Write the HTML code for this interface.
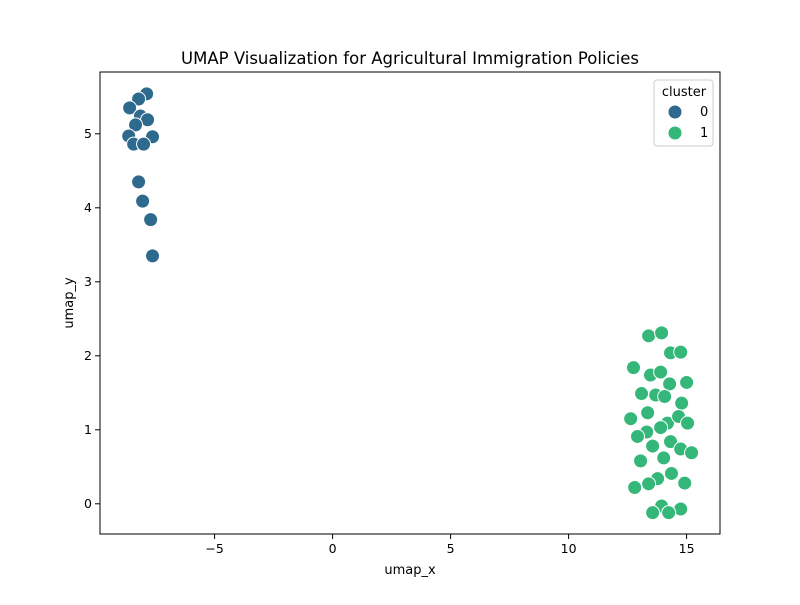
<!DOCTYPE html>
<html><head><meta charset="utf-8"><style>
body{margin:0;background:#fff;font-family:"Liberation Sans","DejaVu Sans",sans-serif}
svg text{font-family:"DejaVu Sans","Liberation Sans",sans-serif}
</style></head><body>
<svg id="chart" width="800" height="600" xmlns="http://www.w3.org/2000/svg"></svg>
<script>
const x0 = [-7.88,-8.22,-8.60,-8.14,-7.84,-8.35,-8.64,-7.63,-8.43,-8.01,-8.22,-8.05,-7.71,-7.63];
const y0 = [5.54,5.47,5.35,5.24,5.19,5.12,4.97,4.96,4.86,4.86,4.35,4.09,3.84,3.35];
const x1 = [13.39,13.94,14.32,14.75,12.75,13.47,13.90,14.28,15.0,13.09,13.69,14.07,14.79,12.63,13.35,14.19,14.66,13.90,15.04,13.31,12.92,13.56,14.32,14.75,15.21,13.05,14.03,14.36,13.77,13.39,12.80,14.92,13.94,14.75,14.24,13.56];
const y1 = [2.27,2.31,2.04,2.05,1.84,1.74,1.78,1.62,1.64,1.49,1.47,1.45,1.36,1.15,1.23,1.09,1.18,1.03,1.09,0.97,0.91,0.78,0.84,0.74,0.69,0.58,0.62,0.41,0.34,0.27,0.22,0.28,-0.03,-0.07,-0.12,-0.12];
const xTicks = [-5,0,5,10,15];
const yTicks = [0,1,2,3,4,5];
const colors = ["#2e6a8e","#35b779"];

const NS="http://www.w3.org/2000/svg";
const svg=document.getElementById('chart');
const L=100,R=720,T=72,B=534;
const sx=v=>332.6+v*23.6;
const sy=v=>503.8-v*74;
function mk(tag,attrs,parent){const e=document.createElementNS(NS,tag);for(const k in attrs)e.setAttribute(k,attrs[k]);(parent||svg).appendChild(e);return e;}

let t=mk('text',{x:410,y:64,'text-anchor':'middle','font-size':16.5,fill:'#000'});


t.textContent='UMAP Visualization for Agricultural Immigration Policies';

xTicks.forEach(v=>{
  const l=mk('line',{x1:sx(v),x2:sx(v),y1:B,y2:B+5,stroke:'#000'});
  
  
  const tx=mk('text',{x:sx(v),y:B+19,'text-anchor':'middle','font-size':12.5});
  
  
  tx.textContent=v<0?'\u2212'+Math.abs(v):v;
});
yTicks.forEach(v=>{
  const l=mk('line',{x1:L-5,x2:L,y1:sy(v),y2:sy(v),stroke:'#000'});
  
  
  const tx=mk('text',{x:L-8,y:sy(v)+4,'text-anchor':'end','font-size':12.5});
  
  
  tx.textContent=v;
});
let xl=mk('text',{x:410,y:574,'text-anchor':'middle','font-size':13});


xl.textContent='umap_x';
let yl=mk('text',{x:73,y:303,'text-anchor':'middle','font-size':13,transform:'rotate(-90 73 303)'});


yl.textContent='umap_y';

function pts(xs,ys,c,name){
  xs.forEach((v,i)=>{
    const p=mk('circle',{cx:sx(v),cy:sy(ys[i]),r:7,fill:c,stroke:'#fff','stroke-width':1});
    
    
  });
}
pts(x0,y0,colors[0],'cluster-0-point');
pts(x1,y1,colors[1],'cluster-1-point');

let fr=mk('rect',{x:L,y:T,width:R-L,height:B-T,fill:'none',stroke:'#000','stroke-width':1});



const lg=mk('g',{});


mk('rect',{x:654,y:80,width:59,height:66,rx:3,fill:'#fff',stroke:'#ccc'},lg);
let lt=mk('text',{x:684,y:96,'text-anchor':'middle','font-size':13},lg);
lt.textContent='cluster';
[0,1].forEach(k=>{
  const g=mk('g',{},lg);
  
  
  mk('circle',{cx:675,cy:112+k*21,r:7,fill:colors[k],stroke:'#fff'},g);
  const tx=mk('text',{x:700,y:116+k*21,'font-size':13},g);
  tx.textContent=k;
});
</script>
</body></html>
